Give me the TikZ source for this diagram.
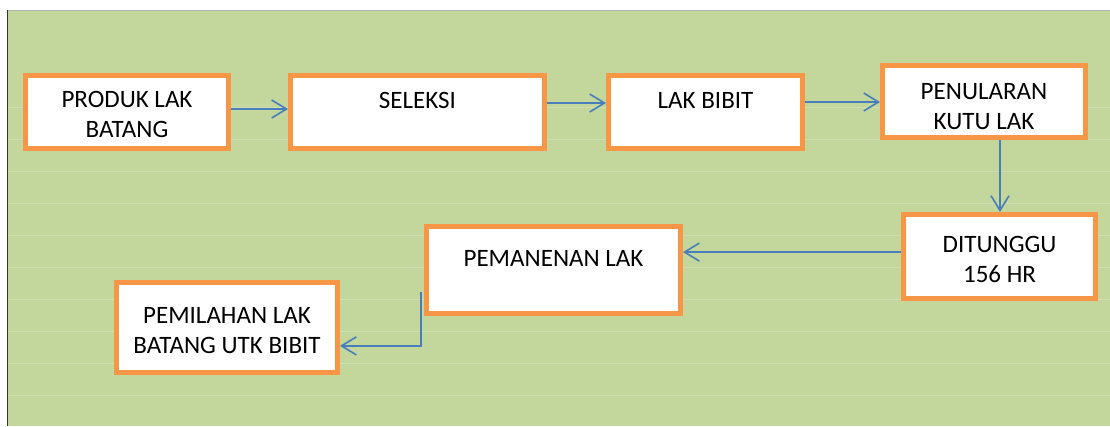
\documentclass[tikz,border=0pt]{standalone}
\usepackage{fontspec}
\setmainfont{Carlito}
\usetikzlibrary{arrows.meta,calc}
\definecolor{bggreen}{HTML}{C3D69B}
\definecolor{gridgreen}{HTML}{D0DFB2}
\definecolor{boxorange}{HTML}{F79646}
\definecolor{arrowblue}{HTML}{4A7EBB}
\tikzset{
  stepbox/.style={rectangle, draw=boxorange, line width=0.125cm, fill=white,
    inner sep=0pt, align=center, text height=37pt,
    font=\fontsize{17.8}{21.5}\selectfont},
  toptext/.style={text height=11.5pt, text depth=16pt},
  flow/.style={draw=arrowblue, line width=0.04cm,
    -{Straight Barb[length=0.37cm,width=0.45cm]}}
}
\begin{document}
\begin{tikzpicture}
    \useasboundingbox (0,0) rectangle (27.75,-10.65);
    \fill[white] (0,0) rectangle (27.75,-10.65);
    \fill[bggreen] (0.175,-0.25) rectangle (27.75,-10.65);
    \foreach \y in {2.675,3.475,...,9.9}
        \draw[gridgreen, line width=0.6pt] (0.2,-\y) -- (27.75,-\y);
    \draw[gray!60, line width=0.6pt] (0.175,-0.25) -- (27.75,-0.25);
    \draw[black!80, line width=0.6pt] (0.175,-0.25) -- (0.175,-10.65);

    \node[stepbox, minimum width=5.075cm, minimum height=1.825cm] (produk) at (3.175,-2.8) {PRODUK LAK\\BATANG};
    \node[stepbox, toptext, minimum width=6.35cm, minimum height=1.825cm] (seleksi) at (10.4375,-2.8) {SELEKSI};
    \node[stepbox, toptext, minimum width=4.85cm, minimum height=1.825cm] (lakbibit) at (17.6375,-2.8) {LAK BIBIT};
    \node[stepbox, text height=40pt, minimum width=5.075cm, minimum height=1.8cm] (penularan) at (24.6,-2.5375) {PENULARAN\\KUTU LAK};
    \node[stepbox, minimum width=4.8cm, minimum height=2.1cm] (ditunggu) at (24.9875,-6.4125) {DITUNGGU\\156 HR};
    \node[stepbox, toptext, minimum width=6.35cm, minimum height=2.175cm] (pemanenan) at (13.8375,-6.75) {PEMANENAN LAK};
    \node[stepbox, minimum width=5.525cm, minimum height=2.25cm] (pemilahan) at (5.675,-8.1875) {PEMILAHAN LAK\\BATANG UTK BIBIT};

    \draw[flow] ([yshift=0.075cm]produk.east) -- ([yshift=0.075cm]seleksi.west);
    \draw[flow] ([yshift=0.225cm]seleksi.east) -- ([yshift=0.225cm]lakbibit.west);
    \draw[flow] ([yshift=-0.0125cm]lakbibit.east |- penularan.west) -- ([yshift=-0.0125cm]penularan.west);
    \draw[flow] ([xshift=0.0125cm]penularan.south -| ditunggu.north) -- ([xshift=0.0125cm]ditunggu.north);
    \draw[flow] ($(ditunggu.west)+(0,0.11)$) -- ($(pemanenan.east |- ditunggu.west)+(0,0.11)$);
    \coordinate (turn) at ($(pemanenan.west)+(-0.075,-0.55)$);
    \draw[flow] (turn) |- ([yshift=-0.46cm]pemilahan.east);
\end{tikzpicture}
\end{document}
